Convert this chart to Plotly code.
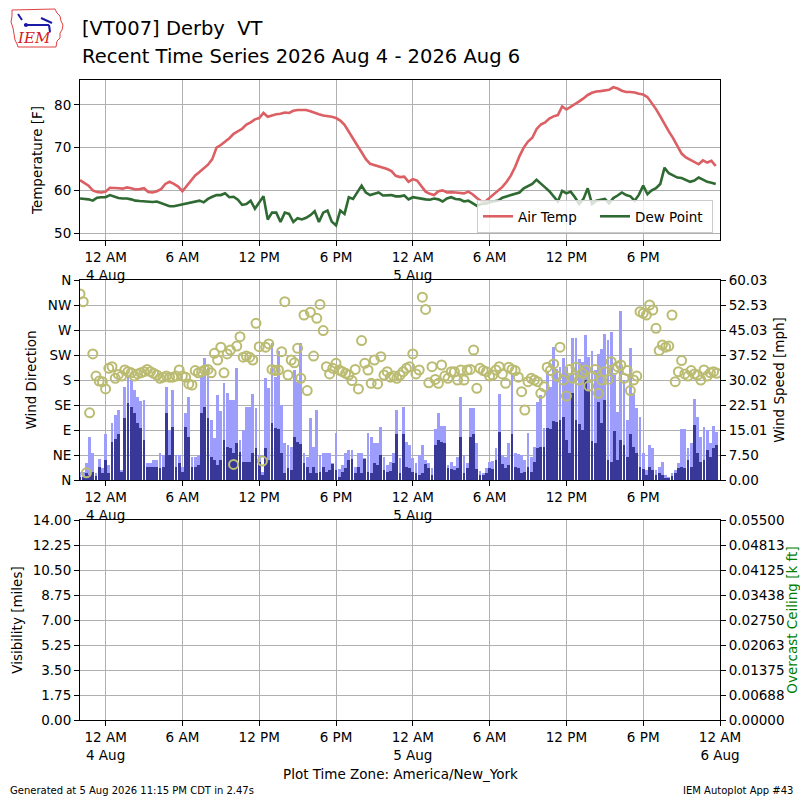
import plotly.graph_objects as go
import pandas as pd

# --- data (Derby VT, 4-5 Aug 2026) ---
start_time = "2026-08-03 22:00"
x_range = ["2026-08-03 22:00", "2026-08-06 00:00"]

# air temperature / dew point [F], every 20 minutes
air_temp = [
    62.4, 61.8, 61.1, 60.0, 59.6, 59.5, 59.7, 60.6, 60.6, 60.5, 60.4, 60.7,
    60.5, 60.2, 60.3, 60.5, 59.6, 59.5, 59.8, 60.3, 61.5, 62.0, 61.5, 60.9,
    59.8, 61.0, 62.2, 63.5, 64.3, 65.1, 66.0, 67.3, 70.0, 70.6, 71.3, 72.2,
    73.2, 73.8, 74.4, 75.4, 75.9, 76.6, 76.9, 78.1, 77.2, 77.5, 77.8, 77.9,
    78.2, 78.1, 78.6, 78.8, 78.8, 78.8, 78.5, 78.1, 77.8, 77.5, 77.4, 77.2,
    76.9, 76.3, 75.3, 73.8, 72.3, 70.5, 68.9, 67.3, 66.2, 65.9, 65.7, 65.4,
    65.0, 64.5, 63.4, 63.1, 63.2, 62.0, 62.6, 62.3, 60.9, 59.7, 59.2, 58.9,
    59.8, 60.0, 59.5, 59.6, 59.5, 59.4, 59.3, 59.7, 59.1, 58.2, 57.5, 57.4,
    58.2, 59.0, 60.0, 60.8, 62.0, 63.5, 65.5, 68.0, 70.0, 71.4, 72.3, 74.3,
    75.4, 75.9, 76.8, 77.3, 77.6, 79.6, 78.9, 79.5, 80.0, 80.8, 81.5, 82.3,
    82.8, 83.1, 83.2, 83.3, 83.5, 84.1, 83.8, 83.3, 83.0, 83.0, 82.9, 82.6,
    82.4, 81.8, 80.5, 79.0, 77.3, 75.4, 73.8, 72.2, 70.3, 68.6, 67.7, 67.1,
    66.5, 66.1, 67.0, 66.5, 66.9, 65.7,
]
dew_point = [
    58.1, 58.0, 57.9, 57.6, 58.3, 58.4, 58.4, 58.9, 58.5, 58.2, 58.1, 58.1,
    57.9, 57.6, 57.5, 57.4, 57.4, 57.3, 57.4, 57.0, 56.6, 56.3, 56.3, 56.5,
    56.8, 56.9, 57.1, 57.3, 57.6, 57.2, 58.0, 58.5, 58.9, 58.9, 59.3, 58.4,
    58.5, 57.8, 56.6, 56.8, 57.6, 55.7, 57.2, 58.6, 53.2, 54.8, 54.8, 52.6,
    54.8, 54.5, 52.6, 53.5, 53.2, 53.6, 54.2, 55.1, 52.6, 54.8, 55.3, 52.7,
    51.8, 55.3, 54.5, 58.4, 58.0, 59.5, 61.1, 59.5, 58.9, 59.2, 59.5, 58.8,
    58.9, 58.9, 58.6, 58.6, 58.8, 57.9, 58.4, 58.2, 58.0, 57.9, 57.8, 58.1,
    57.9, 57.4, 58.1, 58.4, 58.0, 57.9, 57.4, 57.6, 57.0, 56.4, 56.8, 56.9,
    57.2, 57.4, 57.6, 58.3, 58.6, 59.0, 59.3, 59.5, 60.5, 61.0, 61.5, 62.5,
    61.5, 60.7, 59.8, 58.6, 57.4, 59.9, 59.3, 59.7, 58.4, 56.8, 58.0, 60.5,
    56.8, 57.6, 57.8, 58.0, 57.0, 58.2, 58.8, 59.5, 58.9, 58.6, 57.6, 59.0,
    61.1, 59.1, 60.0, 60.5, 61.5, 65.3, 64.0, 63.4, 63.0, 62.9, 62.5, 62.0,
    62.3, 63.0, 62.5, 62.0, 61.8, 61.5,
]

# wind, every 15 minutes: direction [deg], speed and gust [mph]
wind_dir = [
    335, 321, 13, 121, 227, 187, 178, 177, 164, 201, 204, 183,
    190, 187, 198, 195, 193, 187, 191, 193, 195, 199, 195, 192, 189, 183,
    185, 187, 185, 185, 187, 198, 187, 185, 173, 171, 197, 193, 195, 198,
    199, 193, 228, 216, 239, 193, 227, 234, 28,
    241, 258, 221, 223, 221, 216, 282, 240, 34, 239,
    245, 199, 197, 198, 231, 321, 189, 216, 211, 237,
    183, 297, 161, 302, 223, 291, 316, 269, 204, 191,
    201, 210, 198, 195, 192, 189, 179, 199, 164, 251,
    210, 198, 174, 216, 173, 222, 189, 195, 185, 187, 183,
    189, 195, 201, 204, 227, 191, 198, 329, 307, 175,
    204, 181, 174, 207, 187, 183, 195, 195, 180, 198,
    180, 198, 199, 234, 165, 201, 197, 195, 187, 189,
    198, 204, 191, 174, 203, 199, 197, 185, 159, 126,
    177, 183, 180, 177, 156, 168, 203, 197, 209, 187,
    239, 180, 151, 199, 183, 203, 180, 192, 198, 169,
    187, 199, 156, 180, 195, 181, 213, 199, 204, 207,
    183, 197, 161, 180, 187, 303, 300, 297, 315, 306,
    273, 233, 243, 239, 241, 297, 177, 195, 215, 191,
    187, 197, 191, 189, 180, 198, 187, 193, 195, 192,
]
wind_gust = [
    2.5, 2.5, 5.2, 13, 8, 2, 6.2, 3.5, 13.8, 4.5,
    17, 19.5, 21, 3, 28, 31, 30, 27, 25, 23.8,
    24, 5, 5, 6, 6, 8, 7.5, 27.8, 15, 27,
    7.5, 7.5, 4, 20, 25, 7, 7, 7.5, 31, 36.5,
    33.5, 18, 12.5, 25.5, 20.8, 29, 26, 24, 24, 33.5, 12,
    15, 22, 22, 25.8, 21.5, 7.5, 2.5, 30.5, 27.5, 41,
    31, 38.8, 22.5, 11, 10.5, 10, 33, 29.5, 41, 8,
    7, 18.5, 10, 21, 7.5, 8, 8.2, 8.2, 5.2, 14,
    3.2, 4.5, 8.2, 9, 9, 4, 8, 8, 6.5, 14.2,
    13, 11.2, 11.2, 16, 7, 4.5, 5.5, 8, 21,
    6.5, 21.8, 11.5, 10.5, 6.5, 5.2, 7.5, 10.5, 6, 5,
    3.5, 15.2, 20, 16.2, 16.2, 4.5, 5.5, 4.2, 6.8, 24.8,
    7.5, 5.2, 21.5, 21.5, 11.2, 2.8, 2, 3.5, 5.5, 5.8,
    9.5, 25.8, 7.5, 7, 11, 31.8, 8, 7.8, 7.5, 6,
    14, 7, 9.8, 23.5, 25.5, 15.5, 32.8, 27.8, 40, 33.2,
    34, 36.5, 34, 31.5, 42.5, 42.5, 36.2, 35.5, 43.5, 37,
    38.8, 33, 37.8, 39.3, 43.8, 42, 44.5, 31.5, 20.5, 50.8,
    30, 18, 39.5, 26, 21.5, 19, 8, 3, 10.5, 9.5,
    3, 4, 5.5, 1.5, 1, 2, 3, 5.2, 15.2, 15.2,
    9.5, 11.2, 24.2, 19, 13, 16, 15, 11.2, 16.2, 14.5,
]
wind_speed = [
    1, 1, 2, 1.5, 2.5, 1.2, 4, 2, 6, 2,
    11.5, 12.2, 13.8, 2.5, 18.5, 23, 22, 20, 17, 15.5,
    12, 4, 4, 4, 3.8, 3.5, 4, 20, 7.5, 16,
    4, 5, 2.5, 16, 13, 4, 4, 4.5, 20, 22,
    18.5, 7, 6, 4.5, 6, 12, 10, 9.5, 8, 11, 8.5,
    5.5, 5.5, 5.5, 8, 9.5, 5.5, 1.5, 9.5, 6, 17,
    15.5, 15.2, 8, 2, 3.5, 3, 13, 11.5, 10.8, 5,
    4, 2, 4, 2, 2.5, 4, 2.5, 3, 4.8, 3,
    1, 2.5, 3.5, 6, 6.2, 2, 4, 2, 6.2, 2.5,
    2, 5, 4.5, 7.5, 3, 2.5, 2.8, 5.2, 13.8,
    2, 13.8, 4, 3.5, 2.5, 2.2, 1.5, 2, 4.8, 3.5,
    1.5, 10.5, 12, 11.5, 11.2, 3.5, 3.2, 3, 3.5, 12.8,
    2, 3.5, 13, 13.8, 3.2, 1.5, 1.5, 2.2, 3.5, 3.2,
    6, 14.5, 4.8, 3.5, 4.5, 13.8, 4, 3.5, 2, 2.5,
    4, 2.5, 5.5, 9.5, 10, 10, 15.5, 15.2, 17.8, 17.5,
    18, 18.8, 12, 8, 26, 18, 16.8, 15, 30, 27,
    11.8, 11, 23.5, 17, 24, 6, 5.5, 14.8, 6, 12,
    10.5, 7, 13.8, 10, 8, 4, 3.2, 1.5, 4, 3,
    1.5, 2.2, 1.5, 0.5, 0.5, 1.2, 2.2, 3.5, 3.8, 3.5,
    6, 4, 16.5, 8, 5.5, 6, 9, 7, 9.5, 10.5,
]

# no visibility / ceiling reports in this window
visibility = []
ceiling = []

# axis ticks and labels
time_ticks = ["2026-08-04 00:00", "2026-08-04 06:00", "2026-08-04 12:00", "2026-08-04 18:00",
              "2026-08-05 00:00", "2026-08-05 06:00", "2026-08-05 12:00", "2026-08-05 18:00",
              "2026-08-06 00:00"]
time_labels = ["12 AM<br>4 Aug", "6 AM", "12 PM", "6 PM", "12 AM<br>5 Aug",
               "6 AM", "12 PM", "6 PM", "12 AM<br>6 Aug"]
dir_ticks = [0, 45, 90, 135, 180, 225, 270, 315, 360]
dir_labels = ["N", "NE", "E", "SE", "S", "SW", "W", "NW", "N"]
speed_max = 60.034
speed_labels = ["0.00", "7.50", "15.01", "22.51", "30.02", "37.52", "45.03", "52.53", "60.03"]
vis_max = 14.0
vis_labels = ["0.00", "1.75", "3.50", "5.25", "7.00", "8.75", "10.50", "12.25", "14.00"]
ceil_max = 0.055
ceil_labels = ["0.00000", "0.00688", "0.01375", "0.02063", "0.02750",
               "0.03438", "0.04125", "0.04813", "0.05500"]

temp_times = pd.date_range(start_time, periods=len(air_temp), freq="20min")
wind_times = pd.date_range(start_time, periods=len(wind_dir), freq="15min")

font_family = "DejaVu Sans"
grid_color = "#b0b0b0"


def px(x, y):
    # pixel position in the 800x800 page -> paper coordinates
    return x / 800.0, 1 - y / 800.0


fig = go.Figure()

# top panel: temperatures
fig.add_trace(go.Scatter(x=temp_times, y=air_temp, mode="lines", name="Air Temp",
                         line=dict(color="#dc5f64", width=2.6), xaxis="x", yaxis="y"))
fig.add_trace(go.Scatter(x=temp_times, y=dew_point, mode="lines", name="Dew Point",
                         line=dict(color="#2e6a31", width=2.6), xaxis="x", yaxis="y"))

# middle panel: wind bars (base axis, right) + direction circles (overlay, left)
bar_width = 15 * 60 * 1000 * 0.92
fig.add_trace(go.Bar(x=wind_times, y=wind_gust, width=bar_width, marker=dict(color="#9d9dfc", line_width=0),
                     showlegend=False, xaxis="x2", yaxis="y2"))
fig.add_trace(go.Bar(x=wind_times, y=wind_speed, width=bar_width, marker=dict(color="#383899", line_width=0),
                     showlegend=False, xaxis="x2", yaxis="y2"))
fig.add_trace(go.Scatter(x=wind_times, y=wind_dir, mode="markers", showlegend=False,
                         marker=dict(symbol="circle-open", size=9, color="#bbbc72", line=dict(width=2)),
                         xaxis="x2", yaxis="y3"))

# bottom panel: visibility and ceiling (empty)
fig.add_trace(go.Scatter(x=visibility, y=visibility, mode="lines", showlegend=False, xaxis="x3", yaxis="y4"))
fig.add_trace(go.Scatter(x=ceiling, y=ceiling, mode="lines", showlegend=False, xaxis="x3", yaxis="y5"))

tick_font = dict(family=font_family, size=13.5, color="black")
axis_common = dict(showline=True, linecolor="black", linewidth=1, mirror=True, automargin=False,
                   ticks="outside", ticklen=5, tickcolor="black", tickfont=tick_font,
                   showgrid=True, gridcolor=grid_color, gridwidth=1, zeroline=False)
x_common = dict(axis_common, type="date", range=x_range, domain=[0.1, 0.9], tickmode="array")

fig.update_layout(
    xaxis=dict(x_common, anchor="y", tickvals=time_ticks[:-1], ticktext=time_labels[:-1]),
    xaxis2=dict(x_common, anchor="y2", tickvals=time_ticks[:-1], ticktext=time_labels[:-1]),
    xaxis3=dict(x_common, anchor="y4", tickvals=time_ticks, ticktext=time_labels),
    yaxis=dict(axis_common, domain=[0.7, 0.9], range=[48.4, 85.8], tickvals=[50, 60, 70, 80],
               title=dict(text="Temperature [F]", font=tick_font, standoff=8)),
    yaxis2=dict(axis_common, domain=[0.4, 0.65], anchor="x2", side="right", range=[0, speed_max],
                tickmode="array", tickvals=[speed_max * i / 8 for i in range(9)], ticktext=speed_labels,
                mirror=False, layer="above traces",
                title=dict(text="Wind Speed [mph]", font=tick_font, standoff=8)),
    yaxis3=dict(axis_common, domain=[0.4, 0.65], anchor="x2", overlaying="y2", side="left", range=[0, 360],
                tickmode="array", tickvals=dir_ticks, ticktext=dir_labels, showgrid=False, mirror=False,
                title=dict(text="Wind Direction", font=tick_font, standoff=8)),
    yaxis4=dict(axis_common, domain=[0.1, 0.35], anchor="x3", range=[0, vis_max], mirror=False,
                tickmode="array", tickvals=[vis_max * i / 8 for i in range(9)], ticktext=vis_labels,
                title=dict(text="Visibility [miles]", font=tick_font, standoff=6)),
    yaxis5=dict(axis_common, domain=[0.1, 0.35], anchor="x3", overlaying="y4", side="right",
                range=[0, ceil_max], showgrid=False, mirror=False,
                tickmode="array", tickvals=[ceil_max * i / 8 for i in range(9)], ticktext=ceil_labels,
                title=dict(text="Overcast Ceiling [k ft]", font=dict(family=font_family, size=13.5, color="green"),
                           standoff=14)),
    barmode="overlay",
    bargap=0,
    autosize=True,
    margin=dict(l=0, r=0, t=0, b=0, autoexpand=False),
    paper_bgcolor="white", plot_bgcolor="white",
    font=dict(family=font_family, size=13.5, color="black"),
    showlegend=True,
    legend=dict(orientation="h", x=px(713, 0)[0], xanchor="right", y=px(0, 233)[1], yanchor="bottom",
                entrywidth=72, bgcolor="rgba(255,255,255,0.8)", bordercolor="#cccccc", borderwidth=1,
                font=dict(family=font_family, size=13.5)),
)

# header, footer
annotations = [
    dict(text="[VT007] Derby \u00a0VT", x=px(80, 0)[0], y=px(0, 28)[1], xanchor="left", yanchor="middle",
         font=dict(family=font_family, size=19.5)),
    dict(text="Recent Time Series 2026 Aug 4 - 2026 Aug 6", x=px(80, 0)[0], y=px(0, 56)[1],
         xanchor="left", yanchor="middle", font=dict(family=font_family, size=19.5)),
    dict(text="Plot Time Zone: America/New_York", x=0.5, y=px(0, 774)[1], xanchor="center", yanchor="middle",
         font=dict(family=font_family, size=13.5)),
    dict(text="Generated at 5 Aug 2026 11:15 PM CDT in 2.47s", x=px(8, 0)[0], y=px(0, 790)[1],
         xanchor="left", yanchor="middle", font=dict(family=font_family, size=10)),
    dict(text="IEM Autoplot App #43", x=px(795, 0)[0], y=px(0, 790)[1], xanchor="right", yanchor="middle",
         font=dict(family=font_family, size=10)),
    dict(text="<i>IEM</i>", x=px(34, 0)[0], y=px(0, 38)[1], xanchor="center", yanchor="middle",
         font=dict(family="DejaVu Serif", size=15, color="#d42020")),
]
for a in annotations:
    a.update(xref="paper", yref="paper", showarrow=False)
fig.update_layout(annotations=annotations)

# rough IEM logo: state outline plus the blue instrument mark
outline = [(12, 10), (55, 9), (57, 13), (60, 16), (61, 21), (63, 25), (62, 30), (60, 33), (60, 38),
           (57, 41), (56, 47), (18, 47), (17, 44), (15, 40), (14, 34), (13, 28), (11, 22), (12, 16)]
path = "M " + " L ".join("%.5f,%.5f" % px(x, y) for x, y in outline) + " Z"
shapes = [dict(type="path", path=path, line=dict(color="#e04040", width=1))]
for (x0, y0, x1, y1) in [(24, 25, 49, 25), (41, 18, 52, 23), (49, 25, 50, 32), (18, 14, 22, 20)]:
    a0, b0 = px(x0, y0)
    a1, b1 = px(x1, y1)
    shapes.append(dict(type="line", x0=a0, y0=b0, x1=a1, y1=b1, line=dict(color="#1a1aa8", width=2)))
c0, d0 = px(24, 23)
c1, d1 = px(28, 27)
shapes.append(dict(type="circle", x0=c0, y0=d0, x1=c1, y1=d1, fillcolor="#1a1aa8", line=dict(width=0)))
for s in shapes:
    s.update(xref="paper", yref="paper")
fig.update_layout(shapes=shapes)

# let the figure fill the browser window exactly (no page margin, no scrollbars)
page_fix = ("document.documentElement.style.overflow='hidden';"
            "document.body.style.overflow='hidden';"
            "document.body.style.margin='0px';"
            "Plotly.Plots.resize(document.getElementById('{plot_id}'));")
fig.write_html("out.html", default_width="100vw", default_height="100vh",
               config={"displayModeBar": False, "responsive": True}, post_script=page_fix)
